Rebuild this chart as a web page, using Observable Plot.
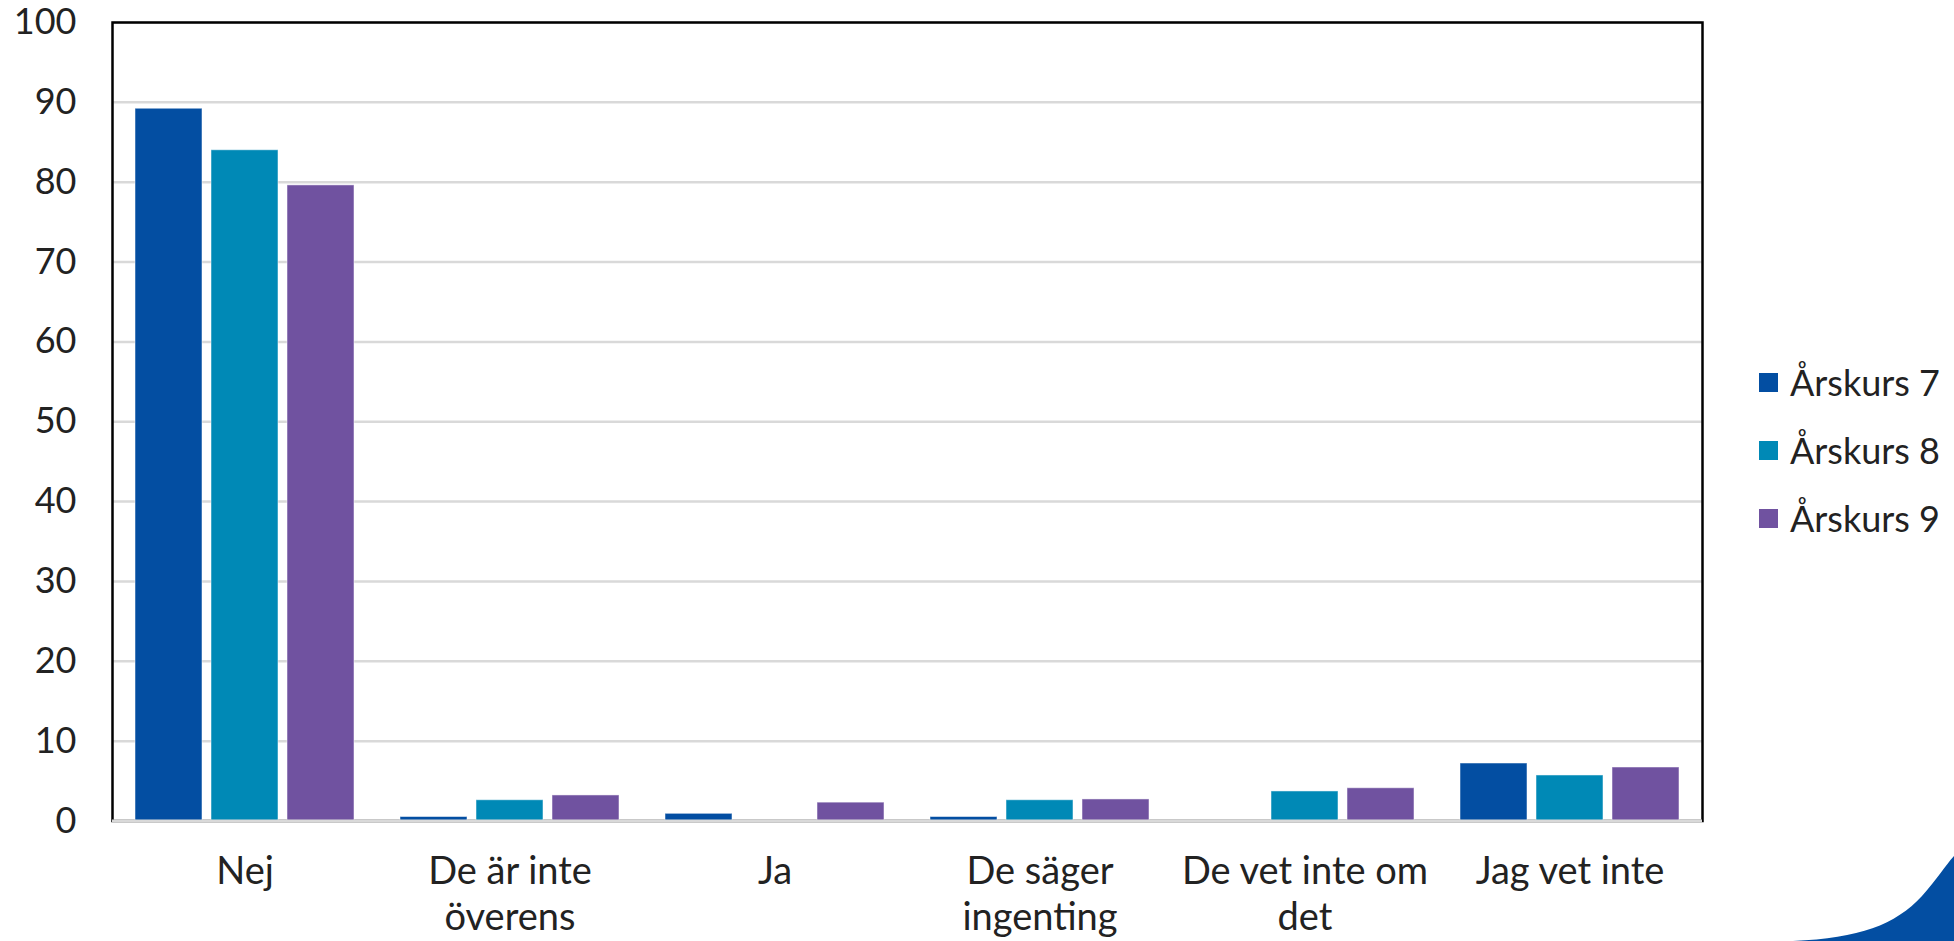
<!DOCTYPE html>
<html>
<head>
<meta charset="utf-8">
<script src="https://cdn.jsdelivr.net/npm/d3@7"></script>
<script src="https://cdn.jsdelivr.net/npm/@observablehq/plot@0.6"></script>
<style>
  html, body { margin: 0; padding: 0; background: #fff; }
  #wrap { position: relative; width: 1954px; height: 941px; overflow: hidden; font-family: Lato, "Open Sans", sans-serif; }
  #wrap svg { overflow: visible; }
  #legend { position: absolute; left: 1759px; top: 348px; }
  .row { display: flex; align-items: center; height: 68px; font-size: 36px; color: #222; }
  .sw { width: 19px; height: 19px; margin-right: 12px; }
  #deco { position: absolute; left: 0; top: 0; pointer-events: none; }
</style>
</head>
<body>
<div id="wrap"></div>
<script>
const categories = ["Nej", "De är inte överens", "Ja", "De säger ingenting", "De vet inte om det", "Jag vet inte"];
const categoryLabels = ["Nej", "De är inte\növerens", "Ja", "De säger\ningenting", "De vet inte om\ndet", "Jag vet inte"];
const series = ["Årskurs 7", "Årskurs 8", "Årskurs 9"];
const arskurs7 = [89.2, 0.5, 0.9, 0.5, null, 7.2];
const arskurs8 = [84.0, 2.6, null, 2.6, 3.7, 5.7];
const arskurs9 = [79.6, 3.2, 2.3, 2.7, 4.1, 6.7];
const colors = ["#034ea2", "#0089b6", "#7052a0"];
const yTicks = [0, 10, 20, 30, 40, 50, 60, 70, 80, 90, 100];

const seriesValues = [arskurs7, arskurs8, arskurs9];
const data = [];
categories.forEach((c, i) => {
  series.forEach((s, j) => {
    const v = seriesValues[j][i];
    if (v != null) data.push({category: c, series: s, value: v});
  });
});
const labelMap = new Map(categories.map((c, i) => [c, categoryLabels[i]]));

const plot = Plot.plot({
  width: 1954,
  height: 941,
  marginTop: 22,
  marginBottom: 120.5,
  marginLeft: 112,
  marginRight: 252,
  style: {fontFamily: "Lato, 'Open Sans', sans-serif", color: "#222", background: "transparent", overflow: "visible"},
  fx: {domain: categories, padding: 0, axis: null, label: null},
  x: {domain: series, paddingInner: 0.124, paddingOuter: 0.294, axis: null, label: null},
  y: {domain: [0, 100], axis: null, label: null},
  color: {domain: series, range: colors},
  marks: [
    Plot.gridY(yTicks, {stroke: "#d9d9d9", strokeOpacity: 1, strokeWidth: 2.5}),
    Plot.frame({facet: "super", stroke: "#000", strokeWidth: 2.5}),
    Plot.barY(data, {fx: "category", x: "series", y: "value", fill: "series", stroke: "#ffffff", strokeOpacity: 0.5, strokeWidth: 1}),
    Plot.ruleY([0], {stroke: "#d9d9d9", strokeWidth: 3}),
    Plot.axisY({ticks: yTicks, tickSize: 0, tickPadding: 36, fontSize: 36, fill: "#222", label: null}),
    Plot.axisFx({anchor: "bottom", tickSize: 0, tickPadding: 31, fontSize: 38, lineHeight: 1.2, fill: "#222", label: null, tickFormat: d => labelMap.get(d)})
  ]
});

const wrap = document.getElementById("wrap");
wrap.appendChild(plot);

const legend = document.createElement("div");
legend.id = "legend";
series.forEach((s, i) => {
  const row = document.createElement("div");
  row.className = "row";
  const sw = document.createElement("div");
  sw.className = "sw";
  sw.style.background = colors[i];
  const t = document.createElement("span");
  t.textContent = s;
  row.appendChild(sw);
  row.appendChild(t);
  legend.appendChild(row);
});
wrap.appendChild(legend);

const ns = "http://www.w3.org/2000/svg";
const deco = document.createElementNS(ns, "svg");
deco.setAttribute("id", "deco");
deco.setAttribute("width", 1954);
deco.setAttribute("height", 941);
const p = document.createElementNS(ns, "path");
p.setAttribute("d", "M1793,941 C1860,938 1895,925 1922,896 C1938,878 1945,866 1954,856 L1954,941 Z");
p.setAttribute("fill", "#034ea2");
deco.appendChild(p);
wrap.appendChild(deco);
</script>
</body>
</html>
